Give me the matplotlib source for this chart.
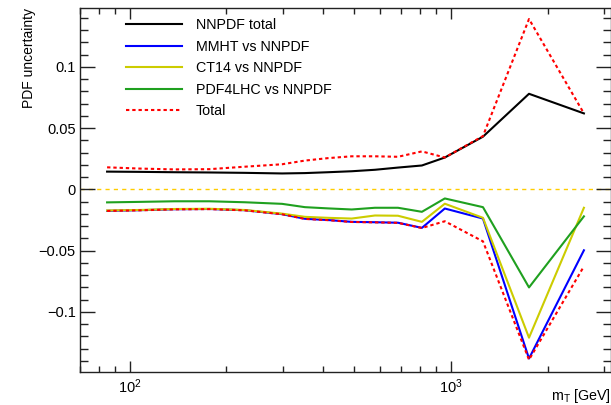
import matplotlib
matplotlib.use("Agg")
import matplotlib.pyplot as plt
from matplotlib.ticker import MultipleLocator, LogLocator, NullFormatter, FixedLocator

plt.rcParams['font.family'] = ['Liberation Sans', 'DejaVu Sans']
plt.rcParams['mathtext.fontset'] = 'custom'
plt.rcParams['mathtext.rm'] = 'Liberation Sans'
plt.rcParams['mathtext.it'] = 'Liberation Sans:italic'
plt.rcParams['mathtext.default'] = 'regular'

# transverse mass bin centres [GeV]
mt = [85, 107, 138, 177, 228, 298, 351, 414, 491, 580, 684, 812, 957, 1258, 1750, 2594]

nnpdf_total = [0.0145, 0.0143, 0.0140, 0.0138, 0.0135, 0.0130, 0.0133, 0.0140, 0.0148, 0.0160,
               0.0178, 0.0195, 0.0260, 0.0430, 0.0780, 0.0620]
mmht_vs_nnpdf = [-0.0175, -0.0170, -0.0162, -0.0160, -0.0170, -0.0202, -0.0240, -0.0250, -0.0265,
                 -0.0268, -0.0272, -0.0314, -0.0156, -0.0238, -0.1380, -0.0497]
ct14_vs_nnpdf = [-0.0172, -0.0168, -0.0160, -0.0158, -0.0168, -0.0198, -0.0224, -0.0232, -0.0238,
                 -0.0213, -0.0215, -0.0265, -0.0117, -0.0232, -0.1210, -0.0150]
pdf4lhc_vs_nnpdf = [-0.0106, -0.0102, -0.0097, -0.0097, -0.0105, -0.0118, -0.0145, -0.0155, -0.0164,
                    -0.0150, -0.0150, -0.0183, -0.0074, -0.0145, -0.0800, -0.0220]
total_up = [0.0180, 0.0170, 0.0163, 0.0165, 0.0185, 0.0205, 0.0235, 0.0255, 0.0270, 0.0270,
            0.0266, 0.0310, 0.0260, 0.0435, 0.1390, 0.0620]
total_down = [-0.0176, -0.0171, -0.0163, -0.0161, -0.0171, -0.0203, -0.0241, -0.0251, -0.0266,
              -0.0269, -0.0273, -0.0315, -0.0260, -0.0424, -0.1390, -0.0628]

fig = plt.figure(figsize=(6.11, 4.05), dpi=100)
ax = fig.add_axes([80 / 611, 1 - 372 / 405, 531 / 611, 364 / 405])

ax.axhline(0, color='#ffcc00', lw=1.0, ls=(0, (3, 3)), zorder=1)

dotted = (0, (1.6, 1.4))
ax.plot(mt, nnpdf_total, color='black', lw=1.5, label='NNPDF total', zorder=3)
ax.plot(mt, mmht_vs_nnpdf, color='#0000ff', lw=1.5, label='MMHT vs NNPDF', zorder=3)
ax.plot(mt, ct14_vs_nnpdf, color='#cccc00', lw=1.5, label='CT14 vs NNPDF', zorder=3)
ax.plot(mt, pdf4lhc_vs_nnpdf, color='#1fa01f', lw=1.5, label='PDF4LHC vs NNPDF', zorder=3)
ax.plot(mt, total_up, color='#ff0000', lw=1.5, ls=dotted, label='Total', zorder=4)
ax.plot(mt, total_down, color='#ff0000', lw=1.5, ls=dotted, zorder=4)

ax.set_xscale('log')
ax.set_xlim(70, 3150)
ax.set_ylim(-0.149, 0.148)

ax.xaxis.set_major_locator(FixedLocator([100, 1000]))
ax.xaxis.set_minor_locator(LogLocator(base=10, subs=range(2, 10)))
ax.xaxis.set_minor_formatter(NullFormatter())
ax.set_xticklabels([r'$10^{2}$', r'$10^{3}$'])

ax.yaxis.set_major_locator(MultipleLocator(0.05))
ax.yaxis.set_minor_locator(MultipleLocator(0.01))
ax.set_yticks([-0.1, -0.05, 0, 0.05, 0.1])
ax.set_yticklabels(['\u22120.1', '\u22120.05', '0', '0.05', '0.1'])

ax.tick_params(which='both', direction='in', top=True, right=True, labelsize=10.5, colors='#222222',
               labelcolor='black')
ax.tick_params(axis='y', which='major', length=11, width=1, pad=3)
ax.tick_params(axis='y', which='minor', length=5.5, width=1)
ax.tick_params(axis='x', which='major', length=8, width=1, pad=4)
ax.tick_params(axis='x', which='minor', length=4.5, width=1)

for s in ax.spines.values():
    s.set_linewidth(1.0)
    s.set_color('#222222')

ax.set_ylabel('PDF uncertainty', loc='top', fontsize=10, labelpad=2)
ax.set_xlabel(r'm$_{\mathrm{T}}$ [GeV]', fontsize=10.3, ha='right', va='top')
ax.xaxis.set_label_coords(1.0, -0.04)

ax.legend(loc='upper left', bbox_to_anchor=(0.07, 0.995), frameon=False, fontsize=10.3,
          handlelength=3.9, handletextpad=1.0, labelspacing=0.52, borderaxespad=0.2)

fig.savefig('out.png', dpi=100)
